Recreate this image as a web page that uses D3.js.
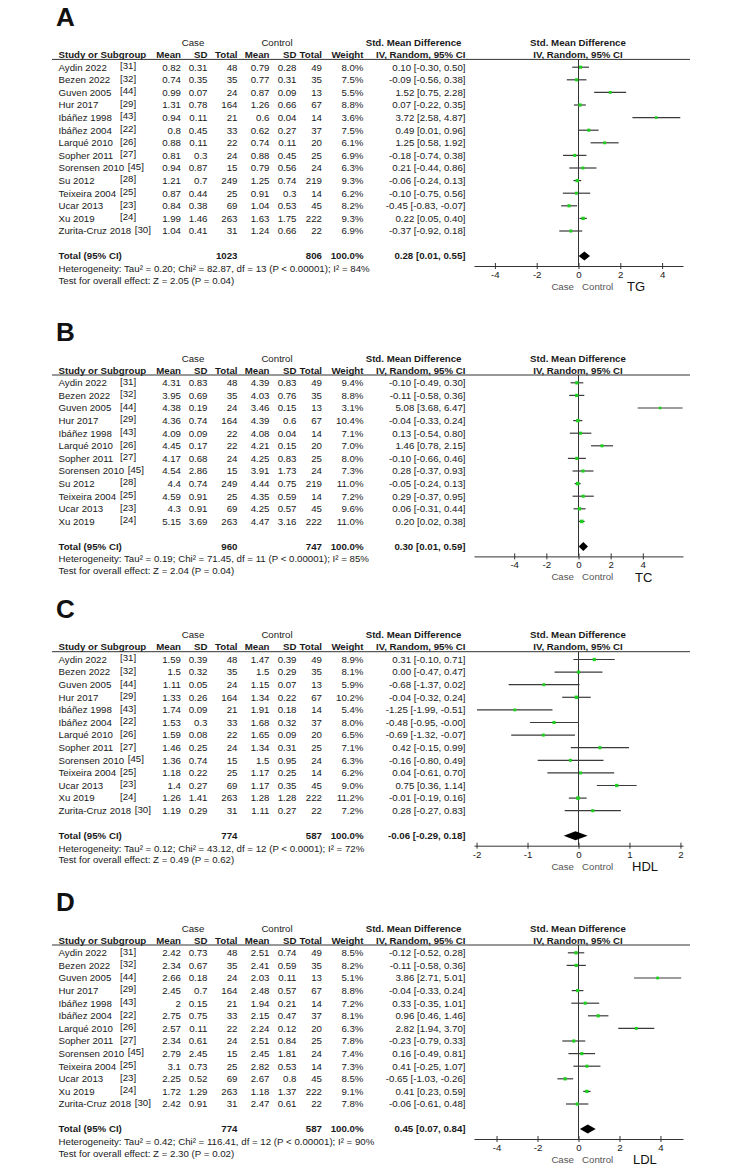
<!DOCTYPE html>
<html>
<head>
<meta charset="utf-8">
<script src="https://cdn.jsdelivr.net/npm/d3@7"></script>
<style>
  body { margin: 0; background: #fff; }
  svg { display: block; }
</style>
</head>
<body>
<div id="chart"></div>
<script>
// ---- study lists ----
const studiesA = ["Aydin 2022", "Bezen 2022", "Guven 2005", "Hur 2017", "Ibáñez 1998", "Ibáñez 2004", "Larqué 2010",
  "Sopher 2011", "Sorensen 2010", "Su 2012", "Teixeira 2004", "Ucar 2013", "Xu 2019", "Zurita-Cruz 2018"];
const refsA = ["[31]", "[32]", "[44]", "[29]", "[43]", "[22]", "[26]", "[27]", "[45]", "[28]", "[25]", "[23]", "[24]", "[30]"];
const studiesB = ["Aydin 2022", "Bezen 2022", "Guven 2005", "Hur 2017", "Ibáñez 1998", "Larqué 2010",
  "Sopher 2011", "Sorensen 2010", "Su 2012", "Teixeira 2004", "Ucar 2013", "Xu 2019"];
const refsB = ["[31]", "[32]", "[44]", "[29]", "[43]", "[26]", "[27]", "[45]", "[28]", "[25]", "[23]", "[24]"];
const studiesCD = ["Aydin 2022", "Bezen 2022", "Guven 2005", "Hur 2017", "Ibáñez 1998", "Ibáñez 2004", "Larqué 2010",
  "Sopher 2011", "Sorensen 2010", "Teixeira 2004", "Ucar 2013", "Xu 2019", "Zurita-Cruz 2018"];
const refsCD = ["[31]", "[32]", "[44]", "[29]", "[43]", "[22]", "[26]", "[27]", "[45]", "[25]", "[23]", "[24]", "[30]"];

// ---- A: TG ----
const tgCaseMean = [0.82, 0.74, 0.99, 1.31, 0.94, 0.8, 0.88, 0.81, 0.94, 1.21, 0.87, 0.84, 1.99, 1.04];
const tgCaseSD   = [0.31, 0.35, 0.07, 0.78, 0.11, 0.45, 0.11, 0.3, 0.87, 0.7, 0.44, 0.38, 1.46, 0.41];
const tgCaseN    = [48, 35, 24, 164, 21, 33, 22, 24, 15, 249, 25, 69, 263, 31];
const tgCtrlMean = [0.79, 0.77, 0.87, 1.26, 0.6, 0.62, 0.74, 0.88, 0.79, 1.25, 0.91, 1.04, 1.63, 1.24];
const tgCtrlSD   = [0.28, 0.31, 0.09, 0.66, 0.04, 0.27, 0.11, 0.45, 0.56, 0.74, 0.3, 0.53, 1.75, 0.66];
const tgCtrlN    = [49, 35, 13, 67, 14, 37, 20, 25, 24, 219, 14, 45, 222, 22];
const tgWeight   = [8.0, 7.5, 5.5, 8.8, 3.6, 7.5, 6.1, 6.9, 6.3, 9.3, 6.2, 8.2, 9.3, 6.9];
const tgSMD      = [0.10, -0.09, 1.52, 0.07, 3.72, 0.49, 1.25, -0.18, 0.21, -0.06, -0.10, -0.45, 0.22, -0.37];
const tgLo       = [-0.30, -0.56, 0.75, -0.22, 2.58, 0.01, 0.58, -0.74, -0.44, -0.24, -0.75, -0.83, 0.05, -0.92];
const tgHi       = [0.50, 0.38, 2.28, 0.35, 4.87, 0.96, 1.92, 0.38, 0.86, 0.13, 0.56, -0.07, 0.40, 0.18];
const tgTotal    = [1023, 806, 0.28, 0.01, 0.55];
const tgHet = "Heterogeneity: Tau² = 0.20; Chi² = 82.87, df = 13 (P < 0.00001); I² = 84%";
const tgTest = "Test for overall effect: Z = 2.05 (P = 0.04)";

// ---- B: TC ----
const tcCaseMean = [4.31, 3.95, 4.38, 4.36, 4.09, 4.45, 4.17, 4.54, 4.4, 4.59, 4.3, 5.15];
const tcCaseSD   = [0.83, 0.69, 0.19, 0.74, 0.09, 0.17, 0.68, 2.86, 0.74, 0.91, 0.91, 3.69];
const tcCaseN    = [48, 35, 24, 164, 22, 22, 24, 15, 249, 25, 69, 263];
const tcCtrlMean = [4.39, 4.03, 3.46, 4.39, 4.08, 4.21, 4.25, 3.91, 4.44, 4.35, 4.25, 4.47];
const tcCtrlSD   = [0.83, 0.76, 0.15, 0.6, 0.04, 0.15, 0.83, 1.73, 0.75, 0.59, 0.57, 3.16];
const tcCtrlN    = [49, 35, 13, 67, 14, 20, 25, 24, 219, 14, 45, 222];
const tcWeight   = [9.4, 8.8, 3.1, 10.4, 7.1, 7.0, 8.0, 7.3, 11.0, 7.2, 9.6, 11.0];
const tcSMD      = [-0.10, -0.11, 5.08, -0.04, 0.13, 1.46, -0.10, 0.28, -0.05, 0.29, 0.06, 0.20];
const tcLo       = [-0.49, -0.58, 3.68, -0.33, -0.54, 0.78, -0.66, -0.37, -0.24, -0.37, -0.31, 0.02];
const tcHi       = [0.30, 0.36, 6.47, 0.24, 0.80, 2.15, 0.46, 0.93, 0.13, 0.95, 0.44, 0.38];
const tcTotal    = [960, 747, 0.30, 0.01, 0.59];
const tcHet = "Heterogeneity: Tau² = 0.19; Chi² = 71.45, df = 11 (P < 0.00001); I² = 85%";
const tcTest = "Test for overall effect: Z = 2.04 (P = 0.04)";

// ---- C: HDL ----
const hdlCaseMean = [1.59, 1.5, 1.11, 1.33, 1.74, 1.53, 1.59, 1.46, 1.36, 1.18, 1.4, 1.26, 1.19];
const hdlCaseSD   = [0.39, 0.32, 0.05, 0.26, 0.09, 0.3, 0.08, 0.25, 0.74, 0.22, 0.27, 1.41, 0.29];
const hdlCaseN    = [48, 35, 24, 164, 21, 33, 22, 24, 15, 25, 69, 263, 31];
const hdlCtrlMean = [1.47, 1.5, 1.15, 1.34, 1.91, 1.68, 1.65, 1.34, 1.5, 1.17, 1.17, 1.28, 1.11];
const hdlCtrlSD   = [0.39, 0.29, 0.07, 0.22, 0.18, 0.32, 0.09, 0.31, 0.95, 0.25, 0.35, 1.28, 0.27];
const hdlCtrlN    = [49, 35, 13, 67, 14, 37, 20, 25, 24, 14, 45, 222, 22];
const hdlWeight   = [8.9, 8.1, 5.9, 10.2, 5.4, 8.0, 6.5, 7.1, 6.3, 6.2, 9.0, 11.2, 7.2];
const hdlSMD      = [0.31, 0.00, -0.68, -0.04, -1.25, -0.48, -0.69, 0.42, -0.16, 0.04, 0.75, -0.01, 0.28];
const hdlLo       = [-0.10, -0.47, -1.37, -0.32, -1.99, -0.95, -1.32, -0.15, -0.80, -0.61, 0.36, -0.19, -0.27];
const hdlHi       = [0.71, 0.47, 0.02, 0.24, -0.51, -0, -0.07, 0.99, 0.49, 0.70, 1.14, 0.16, 0.83];
const hdlTotal    = [774, 587, -0.06, -0.29, 0.18];
const hdlHet = "Heterogeneity: Tau² = 0.12; Chi² = 43.12, df = 12 (P < 0.0001); I² = 72%";
const hdlTest = "Test for overall effect: Z = 0.49 (P = 0.62)";

// ---- D: LDL ----
const ldlCaseMean = [2.42, 2.34, 2.66, 2.45, 2, 2.75, 2.57, 2.34, 2.79, 3.1, 2.25, 1.72, 2.42];
const ldlCaseSD   = [0.73, 0.67, 0.18, 0.7, 0.15, 0.75, 0.11, 0.61, 2.45, 0.73, 0.52, 1.29, 0.91];
const ldlCaseN    = [48, 35, 24, 164, 21, 33, 22, 24, 15, 25, 69, 263, 31];
const ldlCtrlMean = [2.51, 2.41, 2.03, 2.48, 1.94, 2.15, 2.24, 2.51, 2.45, 2.82, 2.67, 1.18, 2.47];
const ldlCtrlSD   = [0.74, 0.59, 0.11, 0.57, 0.21, 0.47, 0.12, 0.84, 1.81, 0.53, 0.8, 1.37, 0.61];
const ldlCtrlN    = [49, 35, 13, 67, 14, 37, 20, 25, 24, 14, 45, 222, 22];
const ldlWeight   = [8.5, 8.2, 5.1, 8.8, 7.2, 8.1, 6.3, 7.8, 7.4, 7.3, 8.5, 9.1, 7.8];
const ldlSMD      = [-0.12, -0.11, 3.86, -0.04, 0.33, 0.96, 2.82, -0.23, 0.16, 0.41, -0.65, 0.41, -0.06];
const ldlLo       = [-0.52, -0.58, 2.71, -0.33, -0.35, 0.46, 1.94, -0.79, -0.49, -0.25, -1.03, 0.23, -0.61];
const ldlHi       = [0.28, 0.36, 5.01, 0.24, 1.01, 1.46, 3.70, 0.33, 0.81, 1.07, -0.26, 0.59, 0.48];
const ldlTotal    = [774, 587, 0.45, 0.07, 0.84];
const ldlHet = "Heterogeneity: Tau² = 0.42; Chi² = 116.41, df = 12 (P < 0.00001); I² = 90%";
const ldlTest = "Test for overall effect: Z = 2.30 (P = 0.02)";

const ticksWide = [-4, -2, 0, 2, 4];
const ticksNarrow = [-2, -1, 0, 1, 2];

// ---- plot settings ----
const width = 744, height = 1174;
const fontSize = 9.7;
const rowStep = 12.6;
const textColor = "#1a1a1a";

const svg = d3.select("#chart").append("svg")
  .attr("width", width)
  .attr("height", height)
  .style("background-color", "white")
  .style("font-family", "Arial, 'Liberation Sans', sans-serif");

// column right edges for the table
const col = { name: 58.5, ref: 120, cMean: 181, cSD: 207.5, cN: 237.5, kMean: 269.5, kSD: 296.5, kN: 322, w: 363.5, ci: 465.5 };

// keep "-0.00" as printed in the source
const fmt = v => (v < 0 || Object.is(v, -0) ? "-" : "") + Math.abs(v).toFixed(2);
const ciText = (m, lo, hi) => `${fmt(m)} [${fmt(lo)}, ${fmt(hi)}]`;

const panels = [
  { letter: "A", label: "TG", labelX: 627, top: 42.7, studies: studiesA, refs: refsA,
    cMean: tgCaseMean, cSD: tgCaseSD, cN: tgCaseN, kMean: tgCtrlMean, kSD: tgCtrlSD, kN: tgCtrlN,
    w: tgWeight, smd: tgSMD, lo: tgLo, hi: tgHi, total: tgTotal, het: tgHet, test: tgTest,
    half: 5, ticks: ticksWide },
  { letter: "B", label: "TC", labelX: 635, top: 358.3, studies: studiesB, refs: refsB,
    cMean: tcCaseMean, cSD: tcCaseSD, cN: tcCaseN, kMean: tcCtrlMean, kSD: tcCtrlSD, kN: tcCtrlN,
    w: tcWeight, smd: tcSMD, lo: tcLo, hi: tcHi, total: tcTotal, het: tcHet, test: tcTest,
    half: 6.5, ticks: ticksWide },
  { letter: "C", label: "HDL", labelX: 632, top: 635, studies: studiesCD, refs: refsCD,
    cMean: hdlCaseMean, cSD: hdlCaseSD, cN: hdlCaseN, kMean: hdlCtrlMean, kSD: hdlCtrlSD, kN: hdlCtrlN,
    w: hdlWeight, smd: hdlSMD, lo: hdlLo, hi: hdlHi, total: hdlTotal, het: hdlHet, test: hdlTest,
    half: 2.05, ticks: ticksNarrow },
  { letter: "D", label: "LDL", labelX: 633, top: 928.3, studies: studiesCD, refs: refsCD,
    cMean: ldlCaseMean, cSD: ldlCaseSD, cN: ldlCaseN, kMean: ldlCtrlMean, kSD: ldlCtrlSD, kN: ldlCtrlN,
    w: ldlWeight, smd: ldlSMD, lo: ldlLo, hi: ldlHi, total: ldlTotal, het: ldlHet, test: ldlTest,
    half: 5.1, ticks: ticksWide }
];

function txt(g, x, y, s, anchor = "start", bold = false, size = fontSize, fill = textColor) {
  return g.append("text")
    .attr("x", x).attr("y", y).attr("dy", "0.35em")
    .attr("text-anchor", anchor)
    .attr("font-size", size)
    .attr("font-weight", bold ? "bold" : "normal")
    .attr("fill", fill)
    .text(s);
}

function drawPanel(p) {
  const g = svg.append("g");
  const n = p.studies.length;
  const yRow = i => p.top + 24.5 + i * rowStep;
  const yHead = p.top + 12;
  const yLine = p.top + 16.7;
  const yTotal = yRow(n - 1) + 25;
  const yAxis = yTotal + 10;

  const x = d3.scaleLinear().domain([-p.half, p.half]).range([474, 683]);

  // panel letter
  txt(g, 56, p.top - 26, p.letter, "start", true, 26, "#111");

  // group headers
  txt(g, 193, p.top, "Case", "middle");
  txt(g, 277, p.top, "Control", "middle");
  txt(g, 461.5, p.top, "Std. Mean Difference", "end", true);
  txt(g, 578, p.top, "Std. Mean Difference", "middle", true);

  // column headers
  txt(g, col.name, yHead, "Study or Subgroup", "start", true);
  [["Mean", col.cMean], ["SD", col.cSD], ["Total", col.cN], ["Mean", col.kMean],
   ["SD", col.kSD], ["Total", col.kN], ["Weight", col.w]]
    .forEach(([s, cx]) => txt(g, cx, yHead, s, "end", true));
  txt(g, col.ci, yHead, "IV, Random, 95% CI", "end", true);
  txt(g, 578, yHead, "IV, Random, 95% CI", "middle", true);

  g.append("line")
    .attr("x1", 52).attr("x2", 690)
    .attr("y1", yLine).attr("y2", yLine)
    .attr("stroke", "#333").attr("stroke-width", 1);

  // study rows
  const rows = p.studies.map((s, i) => ({
    i, study: s, ref: p.refs[i],
    cMean: p.cMean[i], cSD: p.cSD[i], cN: p.cN[i],
    kMean: p.kMean[i], kSD: p.kSD[i], kN: p.kN[i],
    w: p.w[i], smd: p.smd[i], lo: p.lo[i], hi: p.hi[i]
  }));

  rows.forEach(d => {
    const y = yRow(d.i);
    const name = txt(g, col.name, y, d.study);
    const nameEnd = col.name + name.node().getComputedTextLength();
    txt(g, Math.max(col.ref, nameEnd + 3.5), y - 1.5, d.ref);
    txt(g, col.cMean, y, String(d.cMean), "end");
    txt(g, col.cSD, y, String(d.cSD), "end");
    txt(g, col.cN, y, String(d.cN), "end");
    txt(g, col.kMean, y, String(d.kMean), "end");
    txt(g, col.kSD, y, String(d.kSD), "end");
    txt(g, col.kN, y, String(d.kN), "end");
    txt(g, col.w, y, d.w.toFixed(1) + "%", "end");
    txt(g, col.ci, y, ciText(d.smd, d.lo, d.hi), "end");
  });

  // totals
  txt(g, col.name, yTotal, "Total (95% CI)", "start", true);
  txt(g, col.cN, yTotal, String(p.total[0]), "end", true);
  txt(g, col.kN, yTotal, String(p.total[1]), "end", true);
  txt(g, col.w, yTotal, "100.0%", "end", true);
  txt(g, col.ci, yTotal, ciText(p.total[2], p.total[3], p.total[4]), "end", true);
  txt(g, col.name, yTotal + 12.6, p.het);
  txt(g, col.name, yTotal + 24.3, p.test);

  // null line
  g.append("line")
    .attr("x1", x(0)).attr("x2", x(0))
    .attr("y1", yLine).attr("y2", yAxis)
    .attr("stroke", "#333").attr("stroke-width", 1);

  // confidence intervals
  g.selectAll("line.ci")
    .data(rows)
    .enter()
    .append("line")
    .attr("class", "ci")
    .attr("x1", d => x(d.lo))
    .attr("x2", d => x(d.hi))
    .attr("y1", d => yRow(d.i))
    .attr("y2", d => yRow(d.i))
    .attr("stroke", "#3a3a3a")
    .attr("stroke-width", 1.2);

  // point estimates, sized by weight
  g.selectAll("rect.pt")
    .data(rows)
    .enter()
    .append("rect")
    .attr("class", "pt")
    .attr("width", d => 2.2 + d.w * 0.12)
    .attr("height", d => 2.2 + d.w * 0.12)
    .attr("x", d => x(d.smd) - (2.2 + d.w * 0.12) / 2)
    .attr("y", d => yRow(d.i) - (2.2 + d.w * 0.12) / 2)
    .attr("fill", "#1fd11f");

  // pooled diamond
  const dm = 4.5;
  g.append("path")
    .attr("d", `M${x(p.total[3])},${yTotal} L${x(p.total[2])},${yTotal - dm} L${x(p.total[4])},${yTotal} L${x(p.total[2])},${yTotal + dm} Z`)
    .attr("fill", "#000");

  // axis
  const axis = d3.axisBottom(x)
    .tickValues(p.ticks)
    .tickSizeInner(3)
    .tickSizeOuter(0)
    .tickPadding(2)
    .tickFormat(d => String(d));

  const ag = g.append("g")
    .attr("transform", `translate(0,${yAxis})`)
    .call(axis);
  ag.select(".domain").attr("stroke", "#333");
  ag.selectAll(".tick line").attr("stroke", "#333").attr("y1", -3);
  ag.selectAll(".tick text")
    .attr("font-size", fontSize)
    .attr("font-family", "Arial, 'Liberation Sans', sans-serif")
    .attr("fill", textColor);

  txt(g, 574, yAxis + 20.7, "Case", "end", false, fontSize, "#555");
  txt(g, 582, yAxis + 20.7, "Control", "start", false, fontSize, "#555");
  txt(g, p.labelX, yAxis + 20.7, p.label, "start", false, 13, "#111");
}

panels.forEach(drawPanel);
</script>
</body>
</html>
